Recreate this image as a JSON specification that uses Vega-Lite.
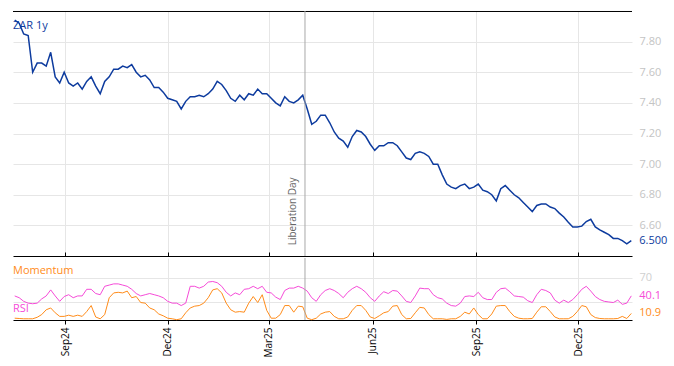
{
 "$schema": "https://vega.github.io/schema/vega-lite/v6.json",
 "background": "white",
 "padding": {"left": 11, "top": 10, "right": 0, "bottom": 0},
 "config": {
  "view": {"stroke": null},
  "font": "Open Sans",
  "axis": {"labelFont": "Open Sans", "gridColor": "#e6e6e6", "gridWidth": 1}
 },
 "datasets": {
  "fx": [
   {"date":"2024-07-18","zar":7.94,"rsi":40,"mom":3},
   {"date":"2024-07-22","zar":7.92,"rsi":37,"mom":2.5},
   {"date":"2024-07-26","zar":7.85,"rsi":31,"mom":2},
   {"date":"2024-07-30","zar":7.84,"rsi":28,"mom":2},
   {"date":"2024-08-03","zar":7.60,"rsi":27,"mom":2},
   {"date":"2024-08-07","zar":7.66,"rsi":28,"mom":4.5},
   {"date":"2024-08-11","zar":7.66,"rsi":35,"mom":9},
   {"date":"2024-08-15","zar":7.64,"rsi":40,"mom":17},
   {"date":"2024-08-19","zar":7.73,"rsi":50,"mom":20},
   {"date":"2024-08-23","zar":7.57,"rsi":40,"mom":12},
   {"date":"2024-08-27","zar":7.53,"rsi":31,"mom":6},
   {"date":"2024-08-31","zar":7.60,"rsi":39,"mom":6},
   {"date":"2024-09-04","zar":7.53,"rsi":42,"mom":8},
   {"date":"2024-09-08","zar":7.51,"rsi":37,"mom":6},
   {"date":"2024-09-12","zar":7.53,"rsi":40,"mom":8},
   {"date":"2024-09-16","zar":7.49,"rsi":40,"mom":6},
   {"date":"2024-09-20","zar":7.54,"rsi":51,"mom":14},
   {"date":"2024-09-24","zar":7.57,"rsi":51,"mom":24},
   {"date":"2024-09-28","zar":7.51,"rsi":44,"mom":5},
   {"date":"2024-10-02","zar":7.46,"rsi":42,"mom":2},
   {"date":"2024-10-06","zar":7.54,"rsi":56,"mom":9},
   {"date":"2024-10-10","zar":7.57,"rsi":58,"mom":37},
   {"date":"2024-10-14","zar":7.62,"rsi":60,"mom":45},
   {"date":"2024-10-18","zar":7.62,"rsi":60,"mom":46},
   {"date":"2024-10-22","zar":7.64,"rsi":58,"mom":45},
   {"date":"2024-10-26","zar":7.63,"rsi":56,"mom":48},
   {"date":"2024-10-30","zar":7.65,"rsi":51,"mom":37},
   {"date":"2024-11-03","zar":7.60,"rsi":44,"mom":39},
   {"date":"2024-11-07","zar":7.57,"rsi":40,"mom":29},
   {"date":"2024-11-11","zar":7.58,"rsi":42,"mom":28},
   {"date":"2024-11-15","zar":7.55,"rsi":44,"mom":20},
   {"date":"2024-11-19","zar":7.50,"rsi":42,"mom":17},
   {"date":"2024-11-23","zar":7.50,"rsi":40,"mom":10},
   {"date":"2024-11-27","zar":7.47,"rsi":37,"mom":7},
   {"date":"2024-12-01","zar":7.43,"rsi":31,"mom":3},
   {"date":"2024-12-05","zar":7.42,"rsi":28,"mom":2},
   {"date":"2024-12-09","zar":7.41,"rsi":28,"mom":0.5},
   {"date":"2024-12-13","zar":7.36,"rsi":24,"mom":2},
   {"date":"2024-12-17","zar":7.41,"rsi":28,"mom":12},
   {"date":"2024-12-21","zar":7.44,"rsi":56,"mom":20},
   {"date":"2024-12-25","zar":7.44,"rsi":56,"mom":23},
   {"date":"2024-12-29","zar":7.45,"rsi":53,"mom":24},
   {"date":"2025-01-02","zar":7.44,"rsi":56,"mom":28},
   {"date":"2025-01-06","zar":7.46,"rsi":63,"mom":37},
   {"date":"2025-01-10","zar":7.49,"rsi":64,"mom":50},
   {"date":"2025-01-14","zar":7.54,"rsi":62,"mom":52},
   {"date":"2025-01-18","zar":7.52,"rsi":56,"mom":45},
   {"date":"2025-01-22","zar":7.48,"rsi":46,"mom":28},
   {"date":"2025-01-26","zar":7.43,"rsi":40,"mom":17},
   {"date":"2025-01-30","zar":7.41,"rsi":45,"mom":13},
   {"date":"2025-02-03","zar":7.45,"rsi":42,"mom":14},
   {"date":"2025-02-07","zar":7.42,"rsi":51,"mom":13},
   {"date":"2025-02-11","zar":7.46,"rsi":52,"mom":28},
   {"date":"2025-02-15","zar":7.45,"rsi":56,"mom":39},
   {"date":"2025-02-19","zar":7.49,"rsi":52,"mom":29},
   {"date":"2025-02-23","zar":7.46,"rsi":56,"mom":42},
   {"date":"2025-02-27","zar":7.46,"rsi":46,"mom":16},
   {"date":"2025-03-03","zar":7.43,"rsi":45,"mom":3},
   {"date":"2025-03-07","zar":7.40,"rsi":38,"mom":3},
   {"date":"2025-03-11","zar":7.38,"rsi":34,"mom":9},
   {"date":"2025-03-15","zar":7.44,"rsi":49,"mom":24},
   {"date":"2025-03-19","zar":7.41,"rsi":53,"mom":24},
   {"date":"2025-03-23","zar":7.40,"rsi":53,"mom":13},
   {"date":"2025-03-27","zar":7.42,"rsi":56,"mom":23},
   {"date":"2025-03-31","zar":7.45,"rsi":53,"mom":22},
   {"date":"2025-04-04","zar":7.36,"rsi":48,"mom":3},
   {"date":"2025-04-08","zar":7.26,"rsi":37,"mom":0.5},
   {"date":"2025-04-12","zar":7.28,"rsi":31,"mom":3},
   {"date":"2025-04-16","zar":7.32,"rsi":42,"mom":10},
   {"date":"2025-04-20","zar":7.32,"rsi":49,"mom":13},
   {"date":"2025-04-24","zar":7.27,"rsi":52,"mom":14},
   {"date":"2025-04-28","zar":7.21,"rsi":49,"mom":6},
   {"date":"2025-05-02","zar":7.17,"rsi":44,"mom":2},
   {"date":"2025-05-06","zar":7.15,"rsi":37,"mom":2},
   {"date":"2025-05-10","zar":7.11,"rsi":46,"mom":5},
   {"date":"2025-05-14","zar":7.18,"rsi":52,"mom":16},
   {"date":"2025-05-18","zar":7.22,"rsi":56,"mom":24},
   {"date":"2025-05-22","zar":7.21,"rsi":52,"mom":24},
   {"date":"2025-05-26","zar":7.18,"rsi":46,"mom":16},
   {"date":"2025-05-30","zar":7.13,"rsi":37,"mom":5},
   {"date":"2025-06-03","zar":7.09,"rsi":31,"mom":2.5},
   {"date":"2025-06-07","zar":7.12,"rsi":40,"mom":7},
   {"date":"2025-06-11","zar":7.12,"rsi":47,"mom":12},
   {"date":"2025-06-15","zar":7.14,"rsi":44,"mom":14},
   {"date":"2025-06-19","zar":7.14,"rsi":49,"mom":23},
   {"date":"2025-06-23","zar":7.12,"rsi":48,"mom":24},
   {"date":"2025-06-27","zar":7.08,"rsi":40,"mom":9},
   {"date":"2025-07-01","zar":7.04,"rsi":31,"mom":2},
   {"date":"2025-07-05","zar":7.03,"rsi":29,"mom":2.5},
   {"date":"2025-07-09","zar":7.07,"rsi":40,"mom":12},
   {"date":"2025-07-13","zar":7.08,"rsi":53,"mom":21},
   {"date":"2025-07-17","zar":7.07,"rsi":52,"mom":20},
   {"date":"2025-07-21","zar":7.05,"rsi":52,"mom":9},
   {"date":"2025-07-25","zar":7.00,"rsi":42,"mom":2},
   {"date":"2025-07-29","zar":7.00,"rsi":37,"mom":2},
   {"date":"2025-08-02","zar":6.93,"rsi":35,"mom":2},
   {"date":"2025-08-06","zar":6.87,"rsi":28,"mom":1},
   {"date":"2025-08-10","zar":6.85,"rsi":24,"mom":2},
   {"date":"2025-08-14","zar":6.84,"rsi":23,"mom":2},
   {"date":"2025-08-18","zar":6.86,"rsi":28,"mom":6},
   {"date":"2025-08-22","zar":6.87,"rsi":39,"mom":13},
   {"date":"2025-08-26","zar":6.84,"rsi":40,"mom":10},
   {"date":"2025-08-30","zar":6.85,"rsi":39,"mom":20},
   {"date":"2025-09-03","zar":6.87,"rsi":46,"mom":9},
   {"date":"2025-09-07","zar":6.83,"rsi":37,"mom":2},
   {"date":"2025-09-11","zar":6.82,"rsi":34,"mom":2},
   {"date":"2025-09-15","zar":6.80,"rsi":34,"mom":10},
   {"date":"2025-09-19","zar":6.76,"rsi":46,"mom":23},
   {"date":"2025-09-23","zar":6.84,"rsi":52,"mom":24},
   {"date":"2025-09-27","zar":6.86,"rsi":53,"mom":24},
   {"date":"2025-10-01","zar":6.83,"rsi":47,"mom":14},
   {"date":"2025-10-05","zar":6.80,"rsi":40,"mom":6},
   {"date":"2025-10-09","zar":6.78,"rsi":39,"mom":3},
   {"date":"2025-10-13","zar":6.75,"rsi":38,"mom":2},
   {"date":"2025-10-17","zar":6.72,"rsi":32,"mom":2},
   {"date":"2025-10-21","zar":6.69,"rsi":29,"mom":2.5},
   {"date":"2025-10-25","zar":6.73,"rsi":42,"mom":13},
   {"date":"2025-10-29","zar":6.74,"rsi":51,"mom":22},
   {"date":"2025-11-02","zar":6.74,"rsi":49,"mom":22},
   {"date":"2025-11-06","zar":6.72,"rsi":45,"mom":14},
   {"date":"2025-11-10","zar":6.71,"rsi":33,"mom":5},
   {"date":"2025-11-14","zar":6.68,"rsi":28,"mom":2},
   {"date":"2025-11-18","zar":6.655,"rsi":33,"mom":2},
   {"date":"2025-11-22","zar":6.62,"rsi":29,"mom":2},
   {"date":"2025-11-26","zar":6.59,"rsi":34,"mom":6},
   {"date":"2025-11-30","zar":6.59,"rsi":42,"mom":14},
   {"date":"2025-12-04","zar":6.595,"rsi":51,"mom":24},
   {"date":"2025-12-08","zar":6.625,"rsi":56,"mom":22},
   {"date":"2025-12-12","zar":6.64,"rsi":48,"mom":9},
   {"date":"2025-12-16","zar":6.59,"rsi":39,"mom":4},
   {"date":"2025-12-20","zar":6.57,"rsi":34,"mom":2.5},
   {"date":"2025-12-24","zar":6.555,"rsi":31,"mom":2},
   {"date":"2025-12-28","zar":6.54,"rsi":30,"mom":2},
   {"date":"2026-01-01","zar":6.515,"rsi":29,"mom":2},
   {"date":"2026-01-05","zar":6.515,"rsi":33,"mom":2.5},
   {"date":"2026-01-09","zar":6.50,"rsi":26,"mom":6},
   {"date":"2026-01-13","zar":6.48,"rsi":28,"mom":2.5},
   {"date":"2026-01-17","zar":6.50,"rsi":40.1,"mom":10.9}
  ]
 },
 "spacing": 0,
 "vconcat": [
  {
   "width": 619,
   "height": 245,
   "data": {"name": "fx"},
   "layer": [
    {
     "mark": {"type": "line", "color": "#0d3b9e", "strokeWidth": 1.5},
     "encoding": {
      "x": {"field": "date", "type": "temporal",
            "scale": {"domain": [{"year": 2024, "month": "jul", "date": 16, "hours": 12}, {"year": 2026, "month": "jan", "date": 17, "hours": 15}]},
            "axis": {"orient": "bottom", "title": null, "labels": false, "ticks": true, "tickSize": -4, "tickColor": "black", "domain": true, "domainColor": "black", "grid": true,
                     "values": [{"year": 2024, "month": "sep", "date": 1}, {"year": 2024, "month": "dec", "date": 1}, {"year": 2025, "month": "mar", "date": 1}, {"year": 2025, "month": "jun", "date": 1}, {"year": 2025, "month": "sep", "date": 1}, {"year": 2025, "month": "dec", "date": 1}]}},
      "y": {"field": "zar", "type": "quantitative",
            "scale": {"domain": [6.4, 8.0], "zero": false, "nice": false},
            "axis": {"orient": "right", "title": null, "values": [6.6, 6.8, 7.0, 7.2, 7.4, 7.6, 7.8], "format": ".2f", "ticks": false, "domain": false, "labelPadding": 7, "labelColor": "#c4c4c4", "labelFontSize": 11, "grid": true}}
     }
    },
    {
     "data": {"values": [{}]},
     "mark": {"type": "rule", "color": "black", "strokeWidth": 1},
     "encoding": {"y": {"datum": 7.9968, "type": "quantitative"}}
    },
    {
     "data": {"values": [{}]},
     "mark": {"type": "rule", "color": "#a8a8a8", "strokeWidth": 1},
     "encoding": {"x": {"datum": {"year": 2025, "month": "apr", "date": 2}, "type": "temporal"}}
    },
    {
     "data": {"values": [{}]},
     "mark": {"type": "text", "text": "Liberation Day", "angle": 270, "align": "left", "baseline": "bottom", "dy": -7, "fontSize": 10, "color": "#666666"},
     "encoding": {
      "x": {"datum": {"year": 2025, "month": "apr", "date": 2}, "type": "temporal"},
      "y": {"datum": 6.47, "type": "quantitative"}
     }
    },
    {
     "data": {"values": [{}]},
     "mark": {"type": "text", "text": "ZAR 1y", "align": "left", "baseline": "middle", "dx": 0, "fontSize": 11, "color": "#0d3b9e"},
     "encoding": {
      "x": {"datum": {"year": 2024, "month": "jul", "date": 16, "hours": 12}, "type": "temporal"},
      "y": {"datum": 7.9, "type": "quantitative"}
     }
    },
    {
     "transform": [
      {"joinaggregate": [{"op": "max", "field": "date", "as": "maxd"}]},
      {"filter": "time(datum.date) >= time(datum.maxd)"}
     ],
     "mark": {"type": "text", "align": "left", "baseline": "middle", "dx": 8, "fontSize": 11, "color": "#0d3b9e"},
     "encoding": {
      "x": {"field": "date", "type": "temporal"},
      "y": {"field": "zar", "type": "quantitative"},
      "text": {"field": "zar", "type": "quantitative", "format": ".3f"}
     }
    }
   ]
  },
  {
   "width": 619,
   "height": 62,
   "data": {"name": "fx"},
   "layer": [
    {
     "mark": {"type": "line", "color": "#f64bd8", "strokeWidth": 1},
     "encoding": {
      "x": {"field": "date", "type": "temporal",
            "scale": {"domain": [{"year": 2024, "month": "jul", "date": 16, "hours": 12}, {"year": 2026, "month": "jan", "date": 17, "hours": 15}]},
            "axis": {"orient": "bottom", "title": null, "format": "%b%y", "labelAngle": -90, "labelFontSize": 10, "labelColor": "black", "labelPadding": 3, "ticks": true, "tickSize": 4, "tickColor": "black", "domain": true, "domainColor": "black", "grid": true,
                     "values": [{"year": 2024, "month": "sep", "date": 1}, {"year": 2024, "month": "dec", "date": 1}, {"year": 2025, "month": "mar", "date": 1}, {"year": 2025, "month": "jun", "date": 1}, {"year": 2025, "month": "sep", "date": 1}, {"year": 2025, "month": "dec", "date": 1}]}},
      "y": {"field": "rsi", "type": "quantitative",
            "scale": {"domain": [0, 103], "nice": false},
            "axis": {"orient": "right", "title": null, "values": [30, 70], "labelExpr": "datum.value == 70 ? datum.label : ''", "ticks": false, "domain": false, "labelPadding": 7, "labelColor": "#d0d0d0", "labelFontSize": 11, "grid": true}}
     }
    },
    {
     "mark": {"type": "line", "color": "#ff8c1a", "strokeWidth": 1},
     "encoding": {
      "x": {"field": "date", "type": "temporal"},
      "y": {"field": "mom", "type": "quantitative"}
     }
    },
    {
     "data": {"values": [{}]},
     "mark": {"type": "rule", "color": "#a8a8a8", "strokeWidth": 1},
     "encoding": {"x": {"datum": {"year": 2025, "month": "apr", "date": 2}, "type": "temporal"}}
    },
    {
     "data": {"values": [{}]},
     "mark": {"type": "text", "text": "Momentum", "align": "left", "baseline": "middle", "dx": 0, "fontSize": 11, "color": "#ff8c1a"},
     "encoding": {
      "x": {"datum": {"year": 2024, "month": "jul", "date": 16, "hours": 12}, "type": "temporal"},
      "y": {"datum": 81, "type": "quantitative"}
     }
    },
    {
     "data": {"values": [{}]},
     "mark": {"type": "text", "text": "RSI", "align": "left", "baseline": "middle", "dx": 0, "fontSize": 11, "color": "#f64bd8"},
     "encoding": {
      "x": {"datum": {"year": 2024, "month": "jul", "date": 16, "hours": 12}, "type": "temporal"},
      "y": {"datum": 18, "type": "quantitative"}
     }
    },
    {
     "transform": [
      {"joinaggregate": [{"op": "max", "field": "date", "as": "maxd"}]},
      {"filter": "time(datum.date) >= time(datum.maxd)"}
     ],
     "mark": {"type": "text", "align": "left", "baseline": "middle", "dx": 8, "fontSize": 11, "color": "#f64bd8"},
     "encoding": {
      "x": {"field": "date", "type": "temporal"},
      "y": {"field": "rsi", "type": "quantitative"},
      "text": {"field": "rsi", "type": "quantitative", "format": ".1f"}
     }
    },
    {
     "transform": [
      {"joinaggregate": [{"op": "max", "field": "date", "as": "maxd"}]},
      {"filter": "time(datum.date) >= time(datum.maxd)"}
     ],
     "mark": {"type": "text", "align": "left", "baseline": "middle", "dx": 8, "fontSize": 11, "color": "#ff8c1a"},
     "encoding": {
      "x": {"field": "date", "type": "temporal"},
      "y": {"field": "mom", "type": "quantitative"},
      "text": {"field": "mom", "type": "quantitative", "format": ".1f"}
     }
    }
   ]
  }
 ]
}
